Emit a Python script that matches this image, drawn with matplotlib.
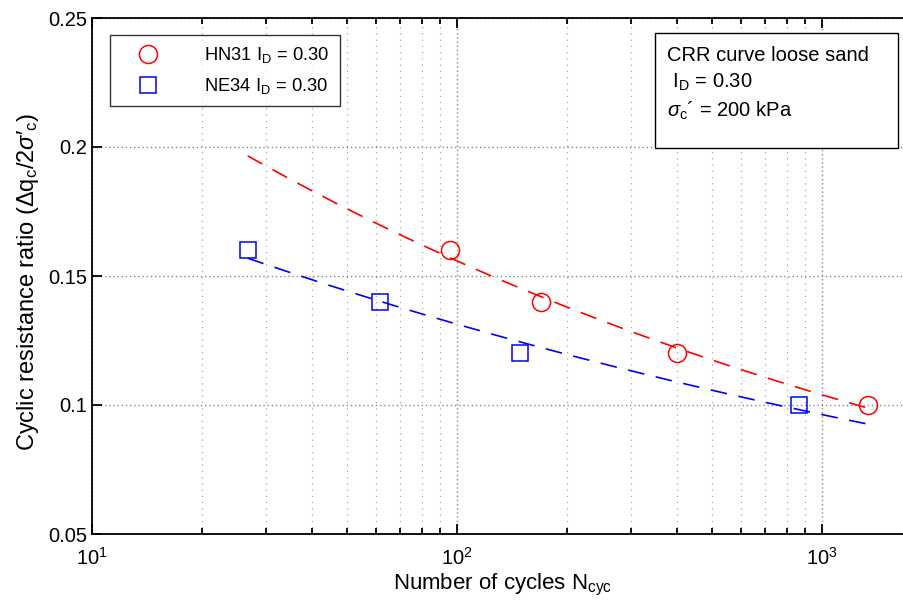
import numpy as np
import matplotlib
matplotlib.use("Agg")
import matplotlib.pyplot as plt
from matplotlib.patches import Rectangle
from matplotlib.ticker import LogLocator, FixedLocator, NullFormatter

plt.rcParams['font.family'] = ['Liberation Sans', 'DejaVu Sans']
plt.rcParams['mathtext.fontset'] = 'custom'
plt.rcParams['mathtext.rm'] = 'Liberation Sans'
plt.rcParams['mathtext.it'] = 'Liberation Sans:italic'

# Data
hn31_N = [95.7, 170, 401, 1337]
hn31_crr = [0.16, 0.14, 0.12, 0.10]
ne34_N = [26.7, 61.5, 149, 865]
ne34_crr = [0.16, 0.14, 0.12, 0.10]
yticks = [0.05, 0.1, 0.15, 0.2, 0.25]
ytick_labels = ['0.05', '0.1', '0.15', '0.2', '0.25']

fig = plt.figure(figsize=(9.04, 6.07), dpi=100)
AXW = 812  # axes width in px (cropped at right figure edge)
ax = fig.add_axes([92/904, 73/607, AXW/904, 516/607])

# power-law fits over the combined N range
Nmin = min(min(hn31_N), min(ne34_N))
Nmax = max(max(hn31_N), max(ne34_N))
Nfit = np.logspace(np.log10(Nmin), np.log10(Nmax), 200)
for N, c, col in [(hn31_N, hn31_crr, 'red'), (ne34_N, ne34_crr, 'blue')]:
    b, a = np.polyfit(np.log(N), np.log(c), 1)
    ax.plot(Nfit, np.exp(a) * Nfit**b, color=col, lw=1.2, dashes=(10, 7))

ax.plot(hn31_N, hn31_crr, 'o', mfc='none', mec='red', ms=13, mew=1.1,
        label='HN31 I$_\\mathrm{D}$ = 0.30', ls='none')
ax.plot(ne34_N, ne34_crr, 's', mfc='none', mec='blue', ms=11.5, mew=1.1,
        label='NE34 I$_\\mathrm{D}$ = 0.30', ls='none')

ax.set_xscale('log')
ax.set_xlim(10, 10 ** (1 + AXW / 365))
ax.set_ylim(0.05, 0.25)
ax.set_yticks(yticks)
ax.set_yticklabels(ytick_labels)
ax.xaxis.set_major_locator(FixedLocator([10, 100, 1000]))
ax.xaxis.set_minor_locator(LogLocator(base=10, subs=np.arange(2, 10)))
ax.xaxis.set_minor_formatter(NullFormatter())
ax.set_xticklabels(['$10^1$', '$10^2$', '$10^3$'])

ax.grid(True, which='major', axis='both', color='#888888', ls=(0, (1, 2)), lw=1.0)
ax.grid(True, which='minor', axis='x', color='#aaaaaa', ls=(0, (1, 4)), lw=0.9)
ax.set_axisbelow(True)

ax.spines['right'].set_visible(False)
ax.tick_params(which='both', direction='in', top=True, right=False, labelsize=14.5,
               width=1.3)
ax.tick_params(axis='x', which='major', pad=9)
ax.tick_params(which='major', length=7)
ax.tick_params(which='minor', length=4)
for s in ax.spines.values():
    s.set_linewidth(1.3)

ax.set_xlabel('Number of cycles N$_\\mathrm{cyc}$', fontsize=16)
ax.xaxis.set_label_coords((503-92)/AXW, -(572-534)/516)
ax.set_ylabel('Cyclic resistance ratio ($\\Delta$q$_\\mathrm{c}$/2$\\mathit{\\sigma}$\u2032$_\\mathrm{c}$)',
              fontsize=17)
ax.yaxis.set_label_coords(-51/AXW, 0.488)

leg = ax.legend(loc='upper left', bbox_to_anchor=(18/AXW, 1 - 17/516), fontsize=13.2,
                frameon=True, fancybox=False, edgecolor='black', borderpad=0.55,
                handletextpad=1.6, borderaxespad=0, handlelength=3.0,
                labelspacing=0.6)
leg.get_frame().set_linewidth(1.0)

# annotation box (fixed size, like the original text box)
ax.add_patch(Rectangle(((655-92)/AXW, (534-148)/516), (898-655)/AXW, (148-33)/516,
                       transform=ax.transAxes, fc='white', ec='black', lw=1.0, zorder=5))
ax.text((667-92)/AXW, (534-46)/516,
        'CRR curve loose sand\n I$_\\mathrm{D}$ = 0.30\n$\\mathit{\\sigma}_\\mathrm{c}$\u00b4 = 200 kPa',
        transform=ax.transAxes, fontsize=14.5, va='top', ha='left', linespacing=1.4,
        zorder=6)

fig.savefig('out.png', dpi=100)
